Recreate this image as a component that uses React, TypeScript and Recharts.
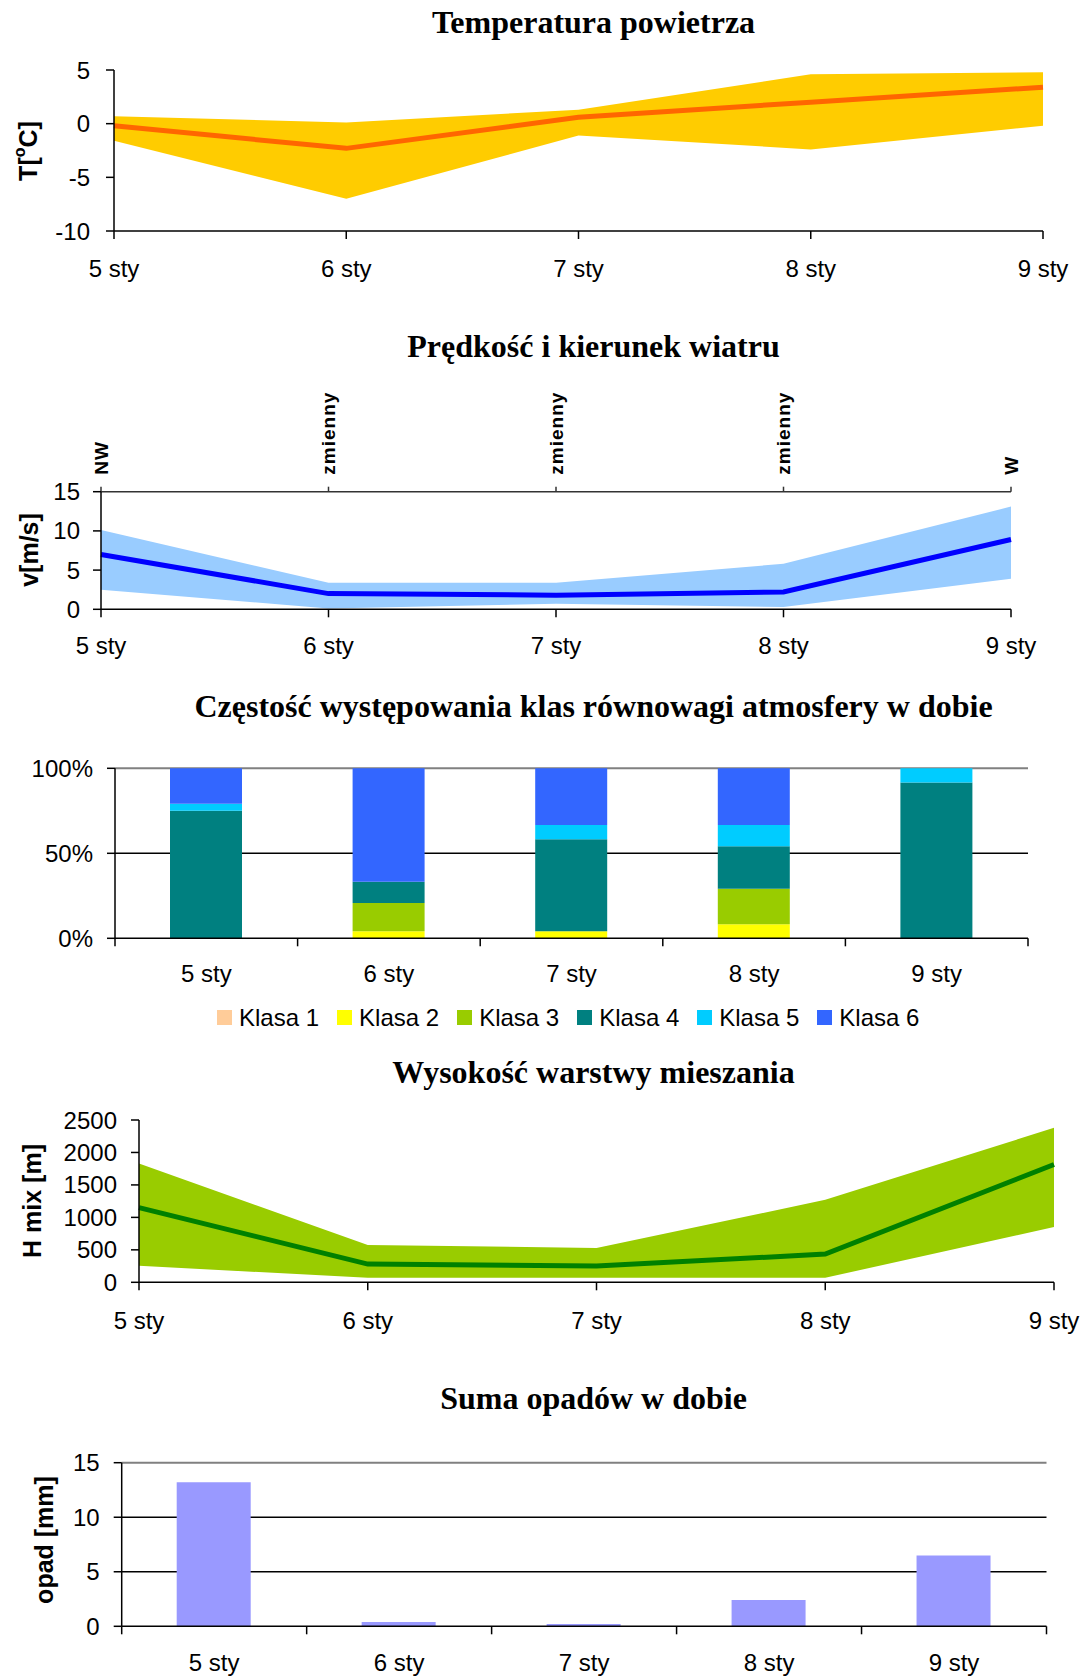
import React from 'react';
import {
  ComposedChart,
  BarChart,
  Area,
  Line,
  Bar,
  XAxis,
  YAxis,
  CartesianGrid,
  Legend,
} from 'recharts';

const SANS = '"Liberation Sans", Arial, sans-serif';
const SERIF = '"Liberation Serif", "Times New Roman", serif';

// ---- data ----
const days = ['5 sty', '6 sty', '7 sty', '8 sty', '9 sty'];

const tempMin = [-1.6, -7.0, -1.1, -2.4, -0.2];
const tempAvg = [-0.2, -2.3, 0.6, 2.0, 3.4];
const tempMax = [0.7, 0.1, 1.3, 4.6, 4.8];
const tempTicks = [5, 0, -5, -10];

const windMin = [2.5, 0.1, 0.7, 0.3, 3.9];
const windAvg = [7.0, 2.0, 1.8, 2.2, 8.9];
const windMax = [10.1, 3.4, 3.4, 5.8, 13.1];
const windDir = ['NW', 'zmienny', 'zmienny', 'zmienny', 'W'];
const windTicks = [0, 5, 10, 15];

const classNames = ['Klasa 1', 'Klasa 2', 'Klasa 3', 'Klasa 4', 'Klasa 5', 'Klasa 6'];
const classColors = ['#FFCC99', '#FFFF00', '#99CC00', '#008080', '#00CCFF', '#3366FF'];
const klasa1 = [0, 0, 0, 0, 0];
const klasa2 = [0, 1, 1, 2, 0];
const klasa3 = [0, 4, 0, 5, 0];
const klasa4 = [18, 3, 13, 6, 22];
const klasa5 = [1, 0, 2, 3, 2];
const klasa6 = [5, 16, 8, 8, 0];
const classTicks = [0, 0.5, 1];

const hmixMin = [255, 70, 70, 70, 850];
const hmixAvg = [1150, 280, 250, 435, 1815];
const hmixMax = [1830, 575, 530, 1270, 2380];
const hmixTicks = [0, 500, 1000, 1500, 2000, 2500];

const rain = [13.2, 0.4, 0.2, 2.4, 6.5];
const rainTicks = [0, 5, 10, 15];

// ---- tables ----
const tempData = days.map((day, i) => ({ day, min: tempMin[i], avg: tempAvg[i], max: tempMax[i] }));
const windData = days.map((day, i) => ({ day, min: windMin[i], avg: windAvg[i], max: windMax[i] }));
const classSeries = [klasa1, klasa2, klasa3, klasa4, klasa5, klasa6];
const classData = days.map((day, i) => {
  const row: any = { day };
  classSeries.forEach((s, k) => (row['k' + (k + 1)] = s[i]));
  return row;
});
const hmixData = days.map((day, i) => ({ day, min: hmixMin[i], avg: hmixAvg[i], max: hmixMax[i] }));
const rainData = days.map((day, i) => ({ day, rain: rain[i] }));

const tickStyle = { fontSize: 24, fill: '#000', fontFamily: SANS };
const axisLine = { stroke: '#000', strokeWidth: 1.5 };
const tickLine = { stroke: '#000', strokeWidth: 1.5 };

function BoundaryTick(props: any) {
  const { x, y, payload, index, bw, n, off } = props;
  const ay = y - off;
  return (
    <g>
      <line x1={x - bw / 2} x2={x - bw / 2} y1={ay} y2={ay + 8} stroke="#000" strokeWidth={1.5} />
      {index === n - 1 && (
        <line x1={x + bw / 2} x2={x + bw / 2} y1={ay} y2={ay + 8} stroke="#000" strokeWidth={1.5} />
      )}
      <text x={x} y={y} dy="0.71em" textAnchor="middle" fontSize={24} fontFamily={SANS} fill="#000">
        {payload.value}
      </text>
    </g>
  );
}

function DirTick(props: any) {
  const { x, y, index } = props;
  return (
    <text
      transform={`translate(${x},${y}) rotate(-90)`}
      textAnchor="start"
      dy="0.36em"
      fontSize={19}
      fontWeight="bold"
      letterSpacing={1}
      fontFamily={SANS}
      fill="#000"
    >
      {windDir[index]}
    </text>
  );
}

function ClassLegend() {
  return (
    <div
      style={{
        display: 'flex',
        alignItems: 'center',
        height: 30,
        paddingLeft: 217,
        boxSizing: 'border-box',
        width: 1085,
      }}
    >
      {classNames.map((name, i) => (
        <div key={name} style={{ display: 'flex', alignItems: 'center', marginRight: 18 }}>
          <span
            style={{ display: 'inline-block', width: 15, height: 15, background: classColors[i], marginRight: 7 }}
          />
          <span style={{ fontSize: 24, fontFamily: SANS, color: '#000', lineHeight: '30px' }}>{name}</span>
        </div>
      ))}
    </div>
  );
}

const titleProps = {
  x: 593.5,
  textAnchor: 'middle' as const,
  fontFamily: SERIF,
  fontWeight: 'bold' as const,
  fontSize: 32,
  fill: '#000',
};

const ylabProps = {
  textAnchor: 'middle' as const,
  dominantBaseline: 'central' as const,
  fontFamily: SANS,
  fontWeight: 'bold' as const,
  fontSize: 25,
  fill: '#000',
};

export default function App() {
  return (
    <div style={{ position: 'absolute', left: 0, top: 0, width: 1085, height: 1679, background: '#fff' }}>
      {/* Chart 1: temperature */}
      <div style={{ position: 'absolute', left: 0, top: 0 }}>
        <ComposedChart width={1085} height={300} data={tempData} margin={{ top: 70, right: 42, bottom: 29, left: 0 }}>
          <XAxis
            dataKey="day"
            scale="point"
            height={40}
            interval={0}
            tickSize={8}
            tickMargin={21}
            tick={tickStyle}
            axisLine={axisLine}
            tickLine={tickLine}
          />
          <YAxis
            type="number"
            domain={[-10, 5]}
            ticks={tempTicks}
            width={114}
            tickSize={8}
            tickMargin={16}
            tick={tickStyle}
            axisLine={axisLine}
            tickLine={tickLine}
          />
          <Area
            dataKey={(d: any) => [d.min, d.max]}
            stroke="none"
            fill="#FFCC00"
            fillOpacity={1}
            isAnimationActive={false}
          />
          <Line dataKey="avg" stroke="#FF6600" strokeWidth={5} dot={false} isAnimationActive={false} />
        </ComposedChart>
      </div>

      {/* Chart 2: wind */}
      <div style={{ position: 'absolute', left: 0, top: 300 }}>
        <ComposedChart width={1085} height={360} data={windData} margin={{ top: 131.7, right: 74, bottom: 10.7, left: 0 }}>
          <XAxis
            dataKey="day"
            scale="point"
            height={40}
            interval={0}
            tickSize={8}
            tickMargin={20}
            tick={tickStyle}
            axisLine={axisLine}
            tickLine={tickLine}
          />
          <XAxis
            xAxisId="top"
            orientation="top"
            dataKey="day"
            scale="point"
            height={60}
            interval={0}
            tickSize={5}
            tickMargin={12}
            tick={(p: any) => <DirTick {...p} />}
            axisLine={{ stroke: '#333', strokeWidth: 1.5 }}
            tickLine={{ stroke: '#333', strokeWidth: 1.5 }}
          />
          <YAxis
            type="number"
            domain={[0, 15]}
            ticks={windTicks}
            width={101}
            tickSize={8}
            tickMargin={13}
            tick={tickStyle}
            axisLine={axisLine}
            tickLine={tickLine}
          />
          <Area
            dataKey={(d: any) => [d.min, d.max]}
            stroke="none"
            fill="#99CCFF"
            fillOpacity={1}
            isAnimationActive={false}
          />
          <Line dataKey="avg" stroke="#0000FF" strokeWidth={5} dot={false} isAnimationActive={false} />
        </ComposedChart>
      </div>

      {/* Chart 3: stability classes */}
      <div style={{ position: 'absolute', left: 0, top: 740 }}>
        <BarChart
          width={1085}
          height={300}
          data={classData}
          stackOffset="expand"
          margin={{ top: 28.3, right: 57, bottom: 7.4, left: 0 }}
        >
          <CartesianGrid vertical={false} horizontalValues={[0.5]} stroke="#000" strokeWidth={1.5} />
          <CartesianGrid vertical={false} horizontalValues={[1]} stroke="#808080" strokeWidth={2} />
          <XAxis
            dataKey="day"
            height={64.3}
            interval={0}
            tickSize={8}
            tickMargin={19}
            tickLine={false}
            tick={(p: any) => <BoundaryTick {...p} bw={182.6} n={5} off={27} />}
            axisLine={axisLine}
          />
          <YAxis
            type="number"
            domain={[0, 1]}
            ticks={classTicks}
            tickFormatter={(v: number) => `${Math.round(v * 100)}%`}
            width={115}
            tickSize={8}
            tickMargin={14}
            tick={tickStyle}
            axisLine={axisLine}
            tickLine={tickLine}
          />
          <YAxis
            yAxisId="r"
            orientation="right"
            type="number"
            domain={[0, 1]}
            width={0}
            tick={false}
            tickLine={false}
            axisLine={{ stroke: '#808080', strokeWidth: 2 }}
          />
          <Legend verticalAlign="bottom" height={30} wrapperStyle={{ left: 0, width: 1085 }} content={() => <ClassLegend />} />
          {classNames.map((name, k) => (
            <Bar
              key={name}
              name={name}
              dataKey={'k' + (k + 1)}
              stackId="a"
              fill={classColors[k]}
              barSize={72}
              isAnimationActive={false}
            />
          ))}
        </BarChart>
      </div>

      {/* Chart 4: mixing height */}
      <div style={{ position: 'absolute', left: 0, top: 1090 }}>
        <ComposedChart width={1085} height={260} data={hmixData} margin={{ top: 30, right: 31, bottom: 27.7, left: 0 }}>
          <XAxis
            dataKey="day"
            scale="point"
            height={40}
            interval={0}
            tickSize={8}
            tickMargin={22}
            tick={tickStyle}
            axisLine={axisLine}
            tickLine={tickLine}
          />
          <YAxis
            type="number"
            domain={[0, 2500]}
            ticks={hmixTicks}
            width={139}
            tickSize={8}
            tickMargin={14}
            tick={tickStyle}
            axisLine={axisLine}
            tickLine={tickLine}
          />
          <Area
            dataKey={(d: any) => [d.min, d.max]}
            stroke="none"
            fill="#99CC00"
            fillOpacity={1}
            isAnimationActive={false}
          />
          <Line dataKey="avg" stroke="#008000" strokeWidth={5} dot={false} isAnimationActive={false} />
        </ComposedChart>
      </div>

      {/* Chart 5: precipitation */}
      <div style={{ position: 'absolute', left: 0, top: 1420 }}>
        <BarChart width={1085} height={259} data={rainData} margin={{ top: 42.7, right: 38.5, bottom: 7.7, left: 0 }}>
          <CartesianGrid vertical={false} horizontalValues={[5, 10]} stroke="#000" strokeWidth={1.5} />
          <CartesianGrid vertical={false} horizontalValues={[15]} stroke="#808080" strokeWidth={2} />
          <XAxis
            dataKey="day"
            height={45}
            interval={0}
            tickSize={8}
            tickMargin={20}
            tickLine={false}
            tick={(p: any) => <BoundaryTick {...p} bw={184.96} n={5} off={28} />}
            axisLine={axisLine}
          />
          <YAxis
            type="number"
            domain={[0, 15]}
            ticks={rainTicks}
            width={121.7}
            tickSize={8}
            tickMargin={14}
            tick={tickStyle}
            axisLine={axisLine}
            tickLine={tickLine}
          />
          <YAxis
            yAxisId="r"
            orientation="right"
            type="number"
            domain={[0, 15]}
            width={0}
            tick={false}
            tickLine={false}
            axisLine={{ stroke: '#808080', strokeWidth: 2 }}
          />
          <Bar dataKey="rain" fill="#9999FF" barSize={74} isAnimationActive={false} />
        </BarChart>
      </div>

      {/* Titles and axis labels */}
      <svg
        width={1085}
        height={1679}
        style={{ position: 'absolute', left: 0, top: 0, pointerEvents: 'none' }}
      >
        <text {...titleProps} y={33.3}>Temperatura powietrza</text>
        <text {...titleProps} y={357.3}>Prędkość i kierunek wiatru</text>
        <text {...titleProps} y={716.7}>Częstość występowania klas równowagi atmosfery w dobie</text>
        <text {...titleProps} y={1083.3}>Wysokość warstwy mieszania</text>
        <text {...titleProps} y={1409.3}>Suma opadów w dobie</text>

        <text {...ylabProps} transform="translate(27.5,151) rotate(-90)">
          T[<tspan fontSize={16} dy={-9}>o</tspan>
          <tspan dy={9}>C]</tspan>
        </text>
        <text {...ylabProps} transform="translate(28.5,550) rotate(-90)">v[m/s]</text>
        <text {...ylabProps} transform="translate(32,1201) rotate(-90)">H mix [m]</text>
        <text {...ylabProps} transform="translate(44,1540) rotate(-90)">opad [mm]</text>
      </svg>
    </div>
  );
}
